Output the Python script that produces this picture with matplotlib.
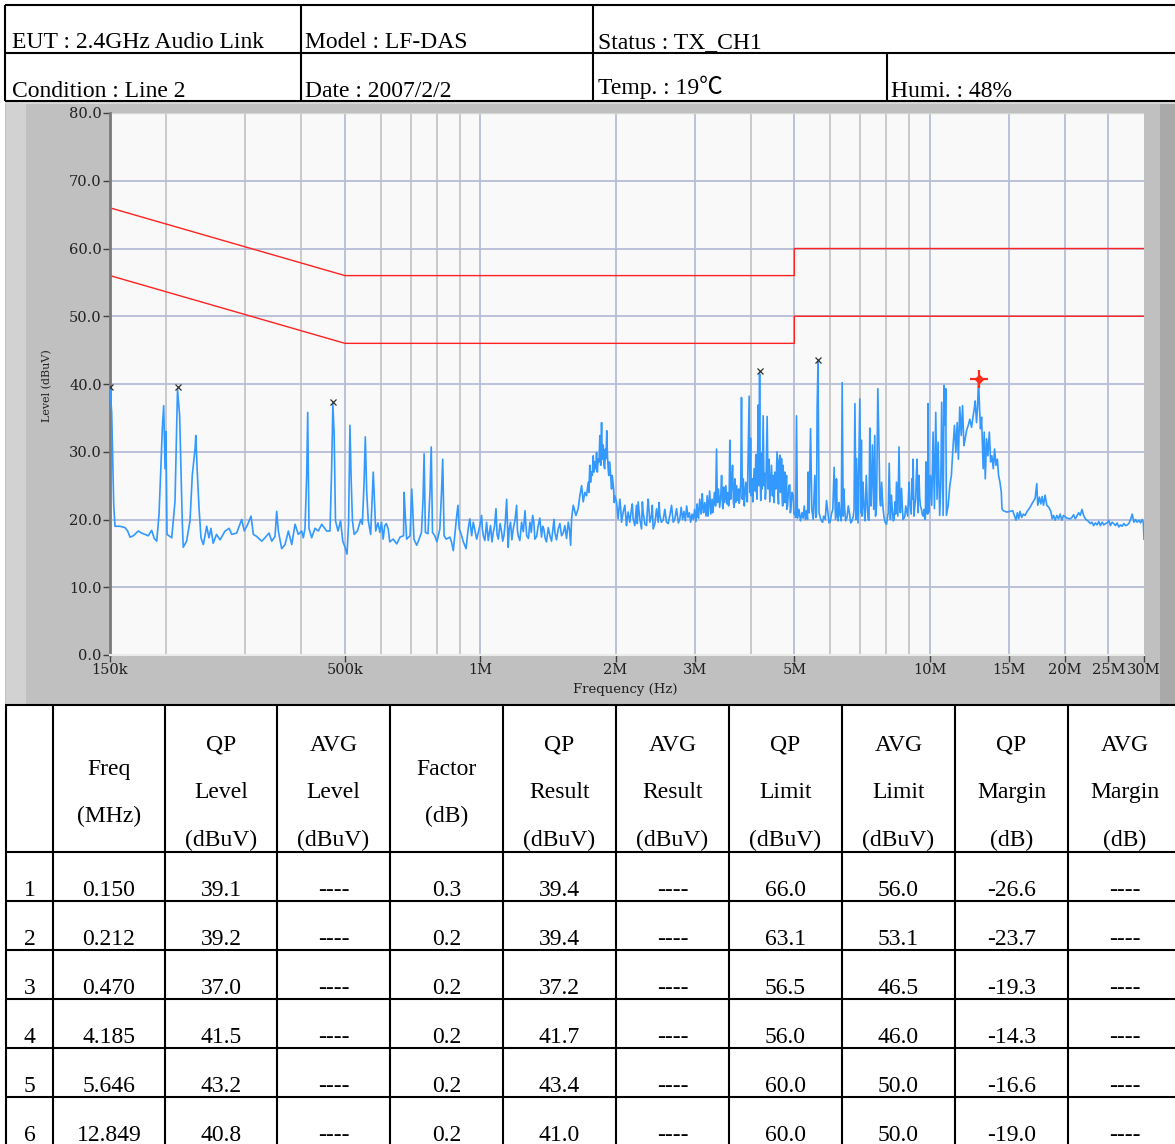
import matplotlib
matplotlib.use("Agg")
import matplotlib.pyplot as plt
from matplotlib.ticker import FixedLocator, NullLocator, FixedFormatter

# ---- header block ----
HEADER_ROW1 = ["EUT : 2.4GHz Audio Link", "Model : LF-DAS", "Status : TX_CH1"]
HEADER_ROW2 = ["Condition : Line 2", "Date : 2007/2/2", "Temp. : 19℃", "Humi. : 48%"]

# ---- peak table ----
COL_HEADS = [[], ["Freq", "(MHz)"], ["QP", "Level", "(dBuV)"], ["AVG", "Level", "(dBuV)"],
             ["Factor", "(dB)"], ["QP", "Result", "(dBuV)"], ["AVG", "Result", "(dBuV)"],
             ["QP", "Limit", "(dBuV)"], ["AVG", "Limit", "(dBuV)"], ["QP", "Margin", "(dB)"],
             ["AVG", "Margin", "(dB)"]]
PEAK_NO = [1, 2, 3, 4, 5, 6]
PEAK_FREQ = [0.150, 0.212, 0.470, 4.185, 5.646, 12.849]
QP_LEVEL = [39.1, 39.2, 37.0, 41.5, 43.2, 40.8]
FACTOR = [0.3, 0.2, 0.2, 0.2, 0.2, 0.2]
QP_RESULT = [39.4, 39.4, 37.2, 41.7, 43.4, 41.0]
QP_LIMIT = [66.0, 63.1, 56.5, 56.0, 60.0, 60.0]
AVG_LIMIT = [56.0, 53.1, 46.5, 46.0, 50.0, 50.0]
QP_MARGIN = [-26.6, -23.7, -19.3, -14.3, -16.6, -19.0]

# ---- limit lines (MHz, dBuV) ----
LIMIT_FREQ = [0.15, 0.5, 5.0, 5.0, 30.0]
QP_LINE = [66, 56, 56, 60, 60]
AVG_LINE = [56, 46, 46, 50, 50]

# ---- axis ticks ----
XTICKS = [0.15, 0.5, 1, 2, 3, 5, 10, 15, 20, 25, 30]
XTICK_LABELS = ["150k", "500k", "1M", "2M", "3M", "5M", "10M", "15M", "20M", "25M", "30M"]
MINOR_GRID = [0.2, 0.3, 0.4, 0.6, 0.7, 0.8, 0.9, 4, 6, 7, 8, 9]
YTICKS = [0, 10, 20, 30, 40, 50, 60, 70, 80]

# ---- scan trace: (MHz, dBuV) ----
SCAN = [
    (0.150, 39.3), (0.1513, 35.8), (0.1521, 29.0), (0.1529, 22.0), (0.1539, 19.0), (0.1579, 19.0),
    (0.1620, 18.8), (0.1642, 18.3), (0.1662, 17.4), (0.1690, 17.6), (0.1734, 18.3), (0.1764, 18.0),
    (0.1795, 17.8), (0.1825, 17.6), (0.1857, 18.4), (0.1882, 17.2), (0.1906, 16.8), (0.1928, 20.7),
    (0.1945, 27.0), (0.1961, 33.4), (0.1975, 36.8), (0.1989, 27.5), (0.1998, 33.0), (0.2009, 17.8),
    (0.2058, 17.3), (0.2093, 22.7), (0.2111, 33.9), (0.2120, 39.2), (0.2143, 35.4), (0.2158, 27.5),
    (0.2172, 19.8), (0.2183, 15.9), (0.2221, 16.8), (0.2260, 19.8), (0.2287, 26.6), (0.2320, 30.5),
    (0.2328, 32.4), (0.2344, 27.5), (0.2367, 21.7), (0.2391, 17.3), (0.2420, 16.3), (0.2462, 19.0),
    (0.2491, 17.3), (0.2516, 18.7), (0.2545, 16.5), (0.2589, 17.8), (0.2636, 17.0), (0.2705, 18.3),
    (0.2761, 18.7), (0.2799, 17.8), (0.2871, 18.0), (0.2920, 19.3), (0.2945, 20.0), (0.2985, 18.3),
    (0.3038, 19.3), (0.3090, 20.5), (0.3127, 17.8), (0.3181, 17.5), (0.3264, 16.8), (0.3319, 17.3),
    (0.3388, 18.0), (0.3436, 16.8), (0.3494, 17.5), (0.3524, 21.2), (0.3554, 18.3), (0.3615, 15.7),
    (0.3678, 16.3), (0.3741, 18.3), (0.3807, 16.3), (0.3871, 19.3), (0.3937, 17.8), (0.4006, 18.3),
    (0.4039, 17.3), (0.4074, 18.7), (0.4110, 26.6), (0.4131, 35.8), (0.4158, 18.7), (0.4216, 17.3),
    (0.4288, 18.7), (0.4362, 18.3), (0.4438, 19.3), (0.4553, 18.3), (0.4631, 18.3), (0.4671, 27.8),
    (0.4700, 37.0), (0.4731, 32.4), (0.4763, 19.8), (0.4825, 18.3), (0.4889, 19.8), (0.4944, 16.8),
    (0.5003, 15.9), (0.5053, 14.9), (0.5093, 19.3), (0.5129, 33.9), (0.5163, 25.6), (0.5196, 19.8),
    (0.5241, 17.8), (0.5329, 18.3), (0.5421, 20.0), (0.5465, 19.3), (0.5512, 25.1), (0.5549, 32.2),
    (0.5589, 24.1), (0.5634, 19.8), (0.5704, 17.8), (0.5780, 27.0), (0.5853, 18.3), (0.5920, 19.5),
    (0.598, 18.1), (0.603, 19.6), (0.608, 17.1), (0.613, 19.1), (0.618, 19.4), (0.624, 18.6),
    (0.629, 16.7), (0.640, 17.1), (0.652, 16.4), (0.663, 17.4), (0.675, 17.6), (0.677, 24.0),
    (0.681, 20.6), (0.686, 17.1), (0.698, 17.6), (0.704, 24.5), (0.708, 21.1), (0.712, 17.1),
    (0.722, 16.2), (0.731, 17.1), (0.740, 18.1), (0.746, 23.0), (0.750, 29.7), (0.755, 18.1),
    (0.765, 17.9), (0.773, 24.0), (0.778, 30.7), (0.783, 18.1), (0.792, 17.6), (0.801, 16.7),
    (0.813, 18.6), (0.820, 24.0), (0.825, 28.9), (0.831, 17.6), (0.840, 17.1), (0.856, 17.4),
    (0.863, 16.7), (0.871, 15.4), (0.885, 20.1), (0.892, 22.1), (0.898, 18.6), (0.909, 17.6),
    (0.917, 16.7), (0.930, 15.7), (0.940, 18.6), (0.948, 20.1), (0.957, 17.6), (0.965, 19.6),
    (0.982, 17.1), (0.998, 19.1), (1.007, 20.6), (1.016, 17.6), (1.033, 19.6), (1.042, 16.9),
    (1.054, 19.1), (1.069, 18.1), (1.084, 21.6), (1.097, 17.1), (1.116, 18.1), (1.129, 17.6),
    (1.145, 23.0), (1.154, 15.9), (1.168, 19.6), (1.184, 18.6), (1.205, 22.1), (1.215, 17.6),
    (1.236, 19.6), (1.258, 21.3), (1.269, 17.6), (1.290, 19.6), (1.308, 20.6), (1.323, 17.1),
    (1.346, 19.1), (1.369, 17.4), (1.385, 18.6), (1.404, 16.7), (1.429, 17.6), (1.454, 19.1),
    (1.466, 18.1), (1.491, 18.6), (1.517, 17.6), (1.543, 19.1), (1.570, 19.6), (1.589, 16.2),
    (1.597, 20.1), (1.610, 22.1), (1.633, 20.6), (1.652, 21.6), (1.666, 23.5), (1.681, 25.0),
    (1.695, 22.6), (1.709, 24.0), (1.724, 23.5), (1.739, 25.5), (1.753, 28.0), (1.768, 27.0),
    (1.784, 29.4), (1.799, 28.5), (1.815, 29.9), (1.830, 28.9), (1.846, 32.4), (1.862, 34.3),
    (1.872, 28.9), (1.885, 28.0), (1.899, 30.4), (1.912, 33.1), (1.926, 27.5), (1.939, 28.5),
    (1.953, 26.0), (1.967, 26.5), (1.981, 24.5), (1.993, 23.5), (2.010, 22.6), (2.027, 20.1),
    (2.045, 23.0), (2.063, 19.6), (2.080, 21.1), (2.098, 22.1), (2.116, 19.1), (2.134, 21.1),
    (2.152, 19.6), (2.171, 21.6), (2.189, 20.1), (2.208, 19.1), (2.227, 22.1), (2.246, 22.6),
    (2.265, 20.1), (2.285, 18.6), (2.304, 21.1), (2.345, 19.1), (2.365, 23.0), (2.385, 19.6),
    (2.405, 20.6), (2.426, 18.6), (2.468, 21.6), (2.489, 19.6), (2.510, 20.6), (2.553, 19.9),
    (2.597, 19.6), (2.642, 20.6), (2.665, 22.1), (2.688, 19.6), (2.734, 21.6), (2.781, 20.1),
    (2.80, 21.8), (2.82, 20.0), (2.84, 21.2), (2.86, 19.8), (2.88, 22.0), (2.90, 20.3),
    (2.92, 21.0), (2.94, 19.6), (2.96, 20.8), (2.98, 20.0), (3.00, 21.5), (3.02, 19.7),
    (3.04, 22.3), (3.06, 20.2), (3.08, 23.0), (3.10, 20.8), (3.12, 23.8), (3.14, 21.0),
    (3.16, 22.5), (3.18, 20.5), (3.20, 23.5), (3.22, 21.2), (3.24, 24.2), (3.26, 20.8),
    (3.28, 23.0), (3.30, 21.5), (3.32, 24.0), (3.34, 22.0), (3.356, 30.4), (3.37, 22.5),
    (3.39, 24.5), (3.41, 21.8), (3.43, 23.5), (3.444, 26.5), (3.46, 22.0), (3.48, 24.8),
    (3.50, 22.5), (3.52, 25.0), (3.54, 22.3), (3.56, 24.0), (3.58, 22.8), (3.593, 31.7),
    (3.61, 23.0), (3.63, 25.5), (3.643, 28.0), (3.66, 22.5), (3.686, 26.0), (3.70, 22.5),
    (3.72, 25.0), (3.74, 22.8), (3.76, 24.5), (3.78, 23.0), (3.80, 25.5), (3.814, 38.0),
    (3.83, 23.0), (3.85, 26.0), (3.88, 23.6), (3.90, 25.5), (3.92, 23.2), (3.94, 27.0),
    (3.967, 38.2), (3.98, 24.0), (3.995, 32.0), (4.01, 23.5), (4.03, 26.0), (4.05, 24.0),
    (4.07, 27.5), (4.09, 24.2), (4.105, 29.6), (4.12, 24.0), (4.14, 27.0), (4.154, 36.9),
    (4.17, 25.0), (4.185, 41.5), (4.20, 25.5), (4.226, 29.8), (4.24, 24.5), (4.262, 35.3),
    (4.28, 25.0), (4.298, 26.8), (4.32, 24.0), (4.35, 35.2), (4.37, 24.5), (4.395, 28.9),
    (4.42, 24.0), (4.448, 28.0), (4.47, 23.5), (4.485, 26.5), (4.50, 23.0), (4.524, 27.0),
    (4.55, 24.5), (4.577, 30.0), (4.60, 23.5), (4.62, 28.5), (4.642, 29.5), (4.66, 24.0),
    (4.682, 29.0), (4.70, 23.0), (4.721, 28.0), (4.74, 22.5), (4.763, 27.0), (4.78, 22.5),
    (4.804, 26.5), (4.83, 22.0), (4.86, 25.0), (4.886, 25.1), (4.91, 21.5), (4.94, 24.0),
    (4.969, 23.6), (4.99, 20.8), (5.013, 21.0), (5.035, 20.3), (5.056, 35.3), (5.08, 20.2),
    (5.12, 21.5), (5.16, 19.8), (5.20, 21.0), (5.23, 20.2), (5.26, 22.0), (5.29, 20.0),
    (5.32, 21.3), (5.35, 20.0), (5.367, 27.0), (5.394, 21.0), (5.433, 33.4), (5.469, 21.5),
    (5.507, 20.0), (5.554, 26.5), (5.58, 20.3), (5.601, 20.5), (5.620, 36.6), (5.646, 43.2),
    (5.676, 21.0), (5.746, 19.8), (5.815, 20.5), (5.896, 22.8), (5.976, 19.5), (6.048, 20.8),
    (6.132, 27.7), (6.175, 20.0), (6.206, 26.0), (6.259, 19.8), (6.312, 21.0), (6.389, 40.2),
    (6.423, 20.5), (6.447, 24.5), (6.503, 19.8), (6.592, 22.0), (6.675, 19.5), (6.766, 20.5),
    (6.82, 37.1), (6.86, 20.0), (6.88, 29.0), (6.93, 19.5), (6.993, 37.8), (7.03, 21.0),
    (7.05, 31.7), (7.11, 25.5), (7.18, 19.8), (7.23, 26.5), (7.30, 20.0), (7.361, 33.5),
    (7.41, 22.0), (7.46, 31.0), (7.51, 21.5), (7.55, 32.4), (7.62, 22.0), (7.67, 39.3),
    (7.72, 30.0), (7.78, 22.0), (7.82, 25.5), (7.91, 20.5), (8.02, 19.3), (8.09, 21.0),
    (8.13, 28.3), (8.18, 20.0), (8.22, 23.6), (8.30, 19.8), (8.37, 22.6), (8.44, 25.5),
    (8.50, 20.5), (8.55, 30.7), (8.61, 21.0), (8.66, 24.6), (8.73, 20.0), (8.81, 20.5),
    (8.88, 21.5), (9.00, 25.5), (9.07, 21.5), (9.13, 26.0), (9.19, 28.9), (9.27, 22.0),
    (9.35, 27.0), (9.38, 28.9), (9.47, 26.5), (9.54, 22.0), (9.59, 21.5), (9.67, 20.5),
    (9.76, 20.0), (9.81, 28.5), (9.87, 24.0), (9.92, 37.1), (9.97, 21.1),
    (10.04, 26.5), (10.11, 22.1), (10.18, 32.9), (10.25, 21.6), (10.32, 35.8), (10.39, 23.0),
    (10.45, 31.4), (10.53, 20.6), (10.59, 25.0), (10.64, 37.3), (10.72, 20.6), (10.77, 39.8),
    (10.83, 33.9), (10.86, 39.3), (10.90, 20.6), (11.00, 22.1), (11.09, 25.0), (11.18, 26.5),
    (11.28, 30.9), (11.36, 33.9), (11.44, 29.9), (11.52, 34.3), (11.59, 28.9), (11.67, 36.6),
    (11.76, 32.4), (11.84, 36.8), (11.92, 30.9), (12.00, 31.9), (12.08, 33.1), (12.19, 33.9),
    (12.29, 34.8), (12.40, 33.6), (12.50, 35.3), (12.57, 36.3), (12.63, 37.5), (12.72, 34.3),
    (12.79, 36.8), (12.849, 40.7), (12.92, 36.3), (12.98, 33.4), (13.05, 35.1), (13.12, 30.4),
    (13.16, 27.5), (13.23, 32.9), (13.30, 26.0), (13.39, 31.9), (13.48, 29.4), (13.58, 32.9),
    (13.67, 28.5), (13.76, 29.4), (13.86, 27.5), (13.95, 30.4), (14.05, 28.0), (14.15, 28.9),
    (14.24, 26.5), (14.34, 25.5), (14.44, 24.0), (14.49, 21.6), (14.59, 21.3), (14.84, 21.1),
    (15.10, 21.2), (15.31, 21.3), (15.44, 20.6), (15.57, 19.9), (15.68, 21.0), (15.79, 20.1),
    (15.89, 21.2), (16.03, 20.3), (16.17, 20.8), (16.31, 20.6), (16.45, 21.1), (16.73, 21.8),
    (17.02, 22.7), (17.17, 23.1), (17.32, 25.3), (17.40, 22.1), (17.55, 23.3), (17.68, 22.3),
    (17.80, 23.4), (17.92, 22.1), (18.07, 23.6), (18.23, 22.1), (18.42, 21.8), (18.61, 21.2),
    (18.74, 20.1), (18.87, 20.6), (19.03, 19.9), (19.19, 20.6), (19.36, 20.1), (19.52, 20.8),
    (19.69, 19.9), (19.86, 20.6), (20.21, 20.2), (20.56, 20.1), (20.73, 20.3), (20.91, 20.7),
    (21.09, 20.1), (21.27, 20.5), (21.46, 21.0), (21.64, 20.6), (21.83, 21.5), (22.02, 20.6),
    (22.21, 20.1), (22.40, 19.9), (22.59, 19.7), (22.79, 19.4), (22.98, 19.6), (23.18, 19.1),
    (23.38, 19.5), (23.58, 19.2), (23.79, 19.7), (23.99, 19.1), (24.20, 19.6), (24.41, 19.2),
    (24.62, 19.4), (24.83, 19.5), (25.04, 19.9), (25.26, 19.1), (25.48, 19.6), (25.70, 19.4),
    (25.92, 19.1), (26.14, 19.5), (26.37, 18.9), (26.60, 19.2), (26.82, 19.0), (27.06, 19.4),
    (27.29, 19.1), (27.52, 19.2), (27.76, 19.4), (28.00, 20.0), (28.24, 20.8), (28.49, 19.6),
    (28.73, 20.0), (28.98, 19.6), (29.23, 19.9), (29.48, 19.5), (29.73, 20.0), (29.90, 19.6),
    (30.0, 17.1),
]

# extra readings from the dense (band-like) stretches of the trace
SCAN_DENSE = [
    (1.011, 18.6), (1.024, 16.9), (1.048, 18.0), (1.062, 16.7), (1.076, 19.0), (1.090, 17.8),
    (1.107, 19.4), (1.122, 16.8), (1.137, 19.6), (1.160, 18.6), (1.176, 17.0), (1.195, 19.9),
    (1.210, 18.4), (1.225, 16.9), (1.247, 18.2), (1.263, 19.4), (1.280, 17.2), (1.299, 18.1),
    (1.316, 19.6), (1.335, 17.5), (1.357, 20.2), (1.377, 19.0), (1.395, 17.2), (1.417, 18.8),
    (1.441, 16.8), (1.460, 20.0), (1.478, 17.0), (1.504, 19.4), (1.530, 18.0), (1.556, 17.2),
    (1.580, 18.5),
    (1.745, 24.0), (1.760, 25.5), (1.776, 26.5), (1.792, 27.0), (1.807, 27.5), (1.822, 27.0),
    (1.838, 28.5), (1.854, 28.0), (1.867, 30.0), (1.878, 31.0), (1.892, 27.5), (1.905, 29.0),
    (1.919, 29.5), (1.932, 26.5), (1.946, 27.5), (1.960, 24.5), (1.974, 25.5), (1.987, 22.5),
    (2.055, 21.4), (2.125, 20.3), (2.180, 22.3), (2.236, 19.4), (2.295, 22.6), (2.325, 19.3),
    (2.355, 21.5), (2.415, 22.1), (2.447, 19.4), (2.500, 22.5), (2.530, 19.6), (2.575, 21.5),
    (2.620, 19.4), (2.710, 20.0), (2.760, 19.5),
    (3.05, 20.6), (3.13, 21.8), (3.21, 20.5), (3.29, 21.0), (3.47, 21.6), (3.57, 22.0),
    (3.67, 21.8), (3.77, 22.4), (3.87, 22.0), (3.93, 22.6), (4.04, 22.6), (4.13, 23.0),
    (4.21, 22.8), (4.31, 23.0), (4.41, 22.6), (4.51, 22.5), (4.61, 22.3), (4.71, 22.0),
    (4.81, 21.5), (4.90, 21.0),
    (5.71, 20.3), (5.78, 19.6), (5.86, 20.0), (5.94, 21.0), (6.01, 19.7), (6.09, 21.5),
    (6.23, 20.6), (6.29, 22.5), (6.36, 19.8), (6.47, 21.6), (6.55, 20.3), (6.63, 21.0),
    (6.72, 19.8), (6.79, 21.5), (7.07, 20.5), (7.14, 22.0), (7.27, 21.5), (7.33, 19.9),
    (7.39, 24.0), (7.58, 20.5), (7.75, 23.0), (7.87, 22.0), (7.96, 19.6), (8.06, 20.4),
    (8.26, 21.5), (8.34, 20.0), (8.41, 20.8), (8.47, 23.0), (8.59, 22.0), (8.70, 21.5),
    (8.77, 20.2), (8.85, 22.0), (8.94, 20.5), (9.03, 22.5), (9.10, 20.8), (9.16, 23.0),
    (9.23, 20.5), (9.31, 23.0), (9.42, 21.0), (9.50, 23.5), (9.63, 20.8), (9.72, 21.5),
    (9.79, 20.3), (9.84, 21.0), (9.90, 20.8), (9.95, 25.0),
]

W, H = 1175, 1144
SERIF = ["Liberation Serif", "Noto Sans CJK JP", "DejaVu Serif"]
CHART_FONT = "DejaVu Serif"
BLUE_GRID = "#b6bdd6"
GRAY_GRID = "#c6c6c6"


def main():
    fig = plt.figure(figsize=(W / 100, H / 100), dpi=100)
    fig.patch.set_facecolor("white")

    # pixel-space canvas for the report frame, header and table
    bg = fig.add_axes([0, 0, 1, 1], zorder=0)
    bg.set_xlim(0, W); bg.set_ylim(H, 0); bg.axis("off")

    # gray instrument panel
    bg.add_patch(plt.Rectangle((5, 101), W - 5, 604, color="#c0c0c0", lw=0))
    bg.add_patch(plt.Rectangle((6, 101), 20, 604, color="#d2d2d2", lw=0))
    bg.add_patch(plt.Rectangle((1160, 101), 15, 604, color="#a9a9a9", lw=0))
    bg.add_patch(plt.Rectangle((5, 101), W - 5, 3, color="#d8d8d8", lw=0))

    blk = dict(color="black", lw=1.5, solid_capstyle="butt")
    # header grid
    for y in (5, 53, 101):
        bg.plot([5, W], [y, y], **blk)
    for x in (5, 301, 593):
        bg.plot([x, x], [5, 101], **blk)
    bg.plot([887, 887], [53, 101], **blk)
    for x, s in zip((12, 305, 598), HEADER_ROW1):
        bg.text(x, 48, s, family=SERIF, fontsize=17, va="baseline")
    for x, y, s in zip((12, 305, 598, 891), (97, 97, 94, 97), HEADER_ROW2):
        bg.text(x, y, s, family=SERIF, fontsize=17, va="baseline")

    # peak table grid
    col_x = [6, 53, 165, 277, 390, 503, 616, 729, 842, 955, 1068, 1181]
    row_y = [705, 852, 901, 950, 999, 1048, 1097, 1146]
    for y in row_y[:-1]:
        bg.plot([5, W], [y, y], **blk)
    for x in col_x[:-1]:
        bg.plot([x, x], [705, H], **blk)
    centers = [(a + b) / 2 for a, b in zip(col_x[:-1], col_x[1:])]
    for cx, head in zip(centers, COL_HEADS):
        ys = [751, 798, 846] if len(head) == 3 else [775, 822]
        for y, s in zip(ys, head):
            bg.text(cx, y, s, family=SERIF, fontsize=17, ha="center", va="baseline")
    for i, n in enumerate(PEAK_NO):
        cells = [str(n), f"{PEAK_FREQ[i]:.3f}", f"{QP_LEVEL[i]:.1f}", "----", f"{FACTOR[i]:.1f}",
                 f"{QP_RESULT[i]:.1f}", "----", f"{QP_LIMIT[i]:.1f}", f"{AVG_LIMIT[i]:.1f}",
                 f"{QP_MARGIN[i]:.1f}", "----"]
        yb = row_y[i + 1] + 44
        for cx, s in zip(centers, cells):
            bg.text(cx, yb, s, family=SERIF, fontsize=17, ha="center", va="baseline")

    # axis titles on the panel
    bg.text(47, 386, "Level (dBuV)", family=CHART_FONT, fontsize=8, rotation=90,
            ha="center", va="center", color="#202020")
    bg.text(625, 690, "Frequency (Hz)", family=CHART_FONT, fontsize=9.5,
            ha="center", va="center", color="#202020")

    # spectrum plot
    ax = fig.add_axes([110 / W, 1 - 655 / H, 1034 / W, 542 / H], zorder=1)
    ax.set_facecolor("#f9f9f9")
    ax.set_xscale("log")
    ax.set_xlim(0.15, 30); ax.set_ylim(0, 80)
    for f in MINOR_GRID:
        ax.axvline(f, color=GRAY_GRID, lw=1.3, zorder=1)
    for f in XTICKS[1:-1]:
        ax.axvline(f, color=BLUE_GRID, lw=1.3, zorder=1)
    for v in YTICKS[1:-1]:
        ax.axhline(v, color=BLUE_GRID, lw=1.3, zorder=1)
    ax.axhline(80, color="#d6d6d6", lw=1.0, zorder=1)

    ax.plot(LIMIT_FREQ, QP_LINE, color="#ff2222", lw=1.0, zorder=2)
    ax.plot(LIMIT_FREQ, AVG_LINE, color="#ff2222", lw=1.0, zorder=2)

    pts = sorted(SCAN + SCAN_DENSE)
    ax.plot([p[0] for p in pts], [p[1] for p in pts], color="#3399ff", lw=1.2, zorder=3)

    ax.plot(PEAK_FREQ[:5], [v + 0.4 for v in QP_LEVEL[:5]], ls="none", marker="x",
            ms=5, mew=0.9, color="#303030", zorder=4)
    ax.plot(PEAK_FREQ[5:], QP_LEVEL[5:], ls="none", marker="+", ms=13, mew=1.6,
            color="#ff2a1a", zorder=5)
    ax.plot(PEAK_FREQ[5:], QP_LEVEL[5:], ls="none", marker="D", ms=4.5,
            color="#ff2a1a", zorder=5)

    ax.xaxis.set_major_locator(FixedLocator(XTICKS))
    ax.xaxis.set_major_formatter(FixedFormatter(XTICK_LABELS))
    ax.xaxis.set_minor_locator(NullLocator())
    ax.set_yticks(YTICKS)
    ax.set_yticklabels([f"{v:.1f}" for v in YTICKS])
    ax.tick_params(axis="both", direction="out", length=5, width=1, color="#404040",
                   labelsize=10.5, labelcolor="#202020", pad=1)
    for lab in ax.get_xticklabels() + ax.get_yticklabels():
        lab.set_family(CHART_FONT)
    for s in ("top", "right"):
        ax.spines[s].set_visible(False)
    ax.spines["left"].set_color("#7a7a7a"); ax.spines["left"].set_linewidth(2)
    ax.spines["bottom"].set_color("#ececec"); ax.spines["bottom"].set_linewidth(1.5)

    fig.savefig("out.png", dpi=100)


if __name__ == "__main__":
    main()
